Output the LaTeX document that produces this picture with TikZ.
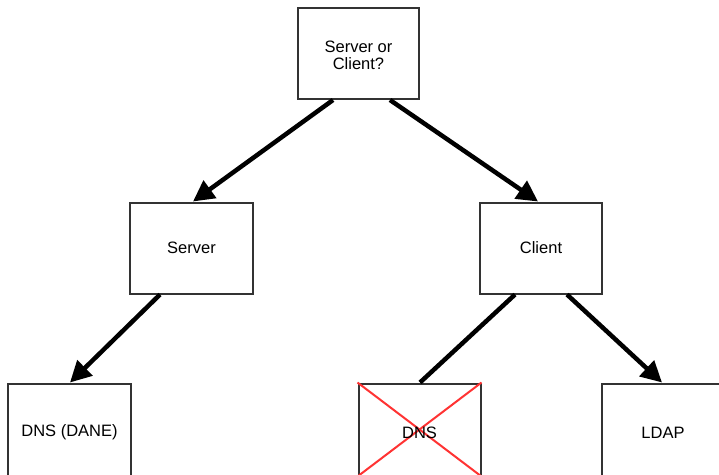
\documentclass[tikz,border=0pt]{standalone}
\usepackage{fontspec}
\setmainfont{Liberation Sans}
\usetikzlibrary{arrows.meta}
\definecolor{boxgray}{HTML}{333333}
\definecolor{crossred}{HTML}{FF3333}
\tikzset{
  box/.style={draw=boxgray, line width=2pt, fill=white, minimum width=121pt, minimum height=91pt,
    inner sep=0pt, align=center, font=\fontsize{16.5pt}{18pt}\selectfont},
  conn/.style={line width=4.5pt, draw=black},
  arr/.style={conn, -{Triangle[length=21pt,width=21pt]}},
  cross/.style={draw=crossred, line width=2pt}
}
\begin{document}
\begin{tikzpicture}[x=1pt,y=-1pt]
\useasboundingbox (0,0) rectangle (719,474);
\node[box] (top) at (358.5,53.5) {};
\node[align=center, font=\fontsize{16.5pt}{17.5pt}\selectfont] (toplabel) at (358.5,55.5) {Server or\\Client?};
\node[box, minimum width=123pt] (server) at (191.5,248) {Server};
\node[box, minimum width=122pt] (client) at (541,248) {Client};
\node[box, minimum width=123pt, minimum height=98pt] (dane) at (69.5,432.5) {DNS (DANE)};
\node[box, minimum width=122pt, minimum height=92pt] (dns) at (419.5,429.5) {};
\node[box, minimum width=122pt, minimum height=98pt] (ldap) at (663,432.5) {LDAP};
\draw[cross] (dns.north west) -- (dns.south east);
\draw[cross] (dns.north east) -- (dns.south west);
\node[font=\fontsize{16.5pt}{18pt}\selectfont] (dnslabel) at ([yshift=-3pt]dns.center) {DNS};
\draw[arr] ([xshift=-25.5pt]top.south) -- ([xshift=1.5pt]server.north);
\draw[arr] ([xshift=31.5pt]top.south) -- ([xshift=-3pt]client.north);
\draw[arr] ([xshift=-31.5pt]server.south) -- ([xshift=0.5pt]dane.north);
\draw[conn] ([xshift=-26pt]client.south) -- ([xshift=0.5pt]dns.north);
\draw[arr] ([xshift=26pt]client.south) -- ([xshift=-1pt]ldap.north);
\end{tikzpicture}
\end{document}
